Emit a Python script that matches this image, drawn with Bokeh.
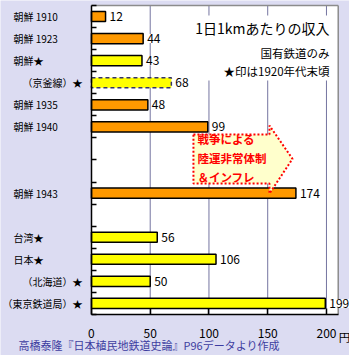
from bokeh.plotting import figure
from bokeh.models import Range1d, ColumnDataSource, LabelSet, FixedTicker
from bokeh.embed import file_html
from bokeh.resources import INLINE
from bokeh.core.properties import value

# ---- data ----
rows = ["朝鮮 1910", "朝鮮 1923", "朝鮮★", "（京釜線）★", "朝鮮 1935", "朝鮮 1940",
        None, None, "朝鮮 1943", None,
        "台湾★", "日本★", "（北海道）★", "（東京鉄道局）★"]
categories = [r for r in rows if r]
values = [12, 44, 43, 68, 48, 99, 174, 56, 106, 50, 199]
x_ticks = [0, 50, 100, 150, 200]
x_max = 210
title_lines = ["1日1kmあたりの収入", "国有鉄道のみ", "★印は1920年代末頃"]
arrow_lines = ["戦争による", "陸運非常体制", "＆インフレ"]
footer = "高橋泰隆『日本植民地鉄道史論』P96データより作成"
unit = "円"

FONT = "Noto Sans CJK JP"
ORANGE = "#FF9900"
YELLOW = "#FFFF00"
GRID = "#7474a0"
HATCH = "#dcdcf2"
BORDER = "#8c8c8c"

n_rows = len(rows)
pos = [rows.index(c) + 0.5 for c in categories]
colors = [YELLOW if "★" in c else ORANGE for c in categories]
dashed = ["京釜線" in c for c in categories]


def subset(mask):
    return ColumnDataSource(dict(
        cat=[c for c, m in zip(categories, mask) if m],
        pos=[p_ for p_, m in zip(pos, mask) if m],
        val=[v for v, m in zip(values, mask) if m],
        color=[c for c, m in zip(colors, mask) if m],
        label=[str(v) for v, m in zip(values, mask) if m],
    ))


solid_src = subset([not d for d in dashed])
dash_src = subset(dashed)
all_src = subset([True] * len(categories))
left_src = subset([not c.startswith("（") for c in categories])
right_src = subset([c.startswith("（") for c in categories])

X_LO, X_HI = -77.4, 219.6
Y_TOP, Y_BOT = -0.227, 15.86

p = figure(width=349, height=355,
           x_range=Range1d(X_LO, X_HI), y_range=Range1d(Y_BOT, Y_TOP),
           output_backend="svg", toolbar_location=None,
           min_border_left=0, min_border_right=0,
           min_border_top=0, min_border_bottom=0)
p.background_fill_color = HATCH
p.border_fill_color = HATCH
p.outline_line_color = None
p.xgrid.visible = False
p.ygrid.visible = False

# white plotting area
p.quad(left=0, right=x_max, top=0, bottom=n_rows, fill_color="white", line_color=None)
# grid lines
p.segment(x0=x_ticks[1:], y0=[0] * 4, x1=x_ticks[1:], y1=[n_rows] * 4,
          line_color=GRID, line_width=1)
# grey top / right border
p.segment(x0=[0, x_max], y0=[0, 0], x1=[x_max, x_max], y1=[0, n_rows],
          line_color=BORDER, line_width=1.5)

# axes
xa = p.xaxis[0]
xa.fixed_location = n_rows
xa.bounds = (0, x_max)
xa.ticker = FixedTicker(ticks=x_ticks)
xa.major_tick_in = 6
xa.major_tick_out = 0
xa.minor_tick_line_color = None
xa.axis_line_color = "black"
xa.axis_line_width = 1.5
xa.major_tick_line_width = 1.5
xa.major_label_text_font = FONT
xa.major_label_text_font_size = "12px"
xa.major_label_text_color = "black"
xa.major_label_standoff = 15

ya = p.yaxis[0]
ya.fixed_location = 0
ya.bounds = (0, n_rows)
ya.ticker = FixedTicker(ticks=list(range(n_rows + 1)))
ya.major_tick_in = 5
ya.major_tick_out = 0
ya.minor_tick_line_color = None
ya.axis_line_color = "black"
ya.axis_line_width = 1.5
ya.major_tick_line_width = 1.5
ya.major_label_text_font_size = "0px"

# white box behind the title
p.quad(left=89.4, right=207.7, top=0.45, bottom=3.4, fill_color="white", line_color=None)

# bars
p.hbar(y="pos", left=0, right="val", height=0.46, fill_color="color",
       line_color="black", line_width=1.5, source=solid_src)
p.hbar(y="pos", left=0, right="val", height=0.46, fill_color="color",
       line_color="#33336a", line_width=1.5, line_dash="4 3", source=dash_src)

# value labels
p.add_layout(LabelSet(x="val", y="pos", text="label", x_offset=4,
                      text_baseline="middle", text_font=value(FONT),
                      text_font_size="12px", text_color="black",
                      background_fill_color="white", source=all_src))

# category labels
p.text(x=-66.4, y="pos", text="cat", text_align="left", text_baseline="middle",
       text_font=value(FONT), text_font_size="10px", text_color="black",
       source=left_src)
p.text(x=-7.7, y="pos", text="cat", text_align="right", text_baseline="middle",
       text_font=value(FONT), text_font_size="10px", text_color="black",
       source=right_src)

# title texts
p.text(x=[202.6] * 3, y=[1.0, 2.13, 2.95], text=title_lines,
       text_font_size=["14px", "11.5px", "11.5px"], text_align="right",
       text_baseline="middle", text_font=value(FONT), text_color="black")

# arrow callout
p.patch(x=[86.8, 151.5, 151.5, 171.1, 151.5, 151.5, 86.8],
        y=[5.85, 5.85, 5.44, 6.95, 8.52, 8.07, 8.07],
        fill_color="#FFFFCC", line_color="red", line_width=2, line_dash="2 2")
p.text(x=[90.2] * 3, y=[6.07, 6.89, 7.75], text=arrow_lines,
       text_font=value(FONT), text_font_style="bold", text_color="red",
       text_font_size="11.5px", text_baseline="middle")

# unit & footer
p.text(x=[215.4], y=[15.02], text=[unit], text_align="center", text_baseline="middle",
       text_font=value(FONT), text_font_size="11.5px", text_color="black")
p.text(x=[-62.1], y=[15.4], text=[footer], text_align="left", text_baseline="middle",
       text_font=value(FONT), text_font_size="11px", text_color="#3c3ca0")

open("out.html", "w").write(file_html(p, INLINE))
